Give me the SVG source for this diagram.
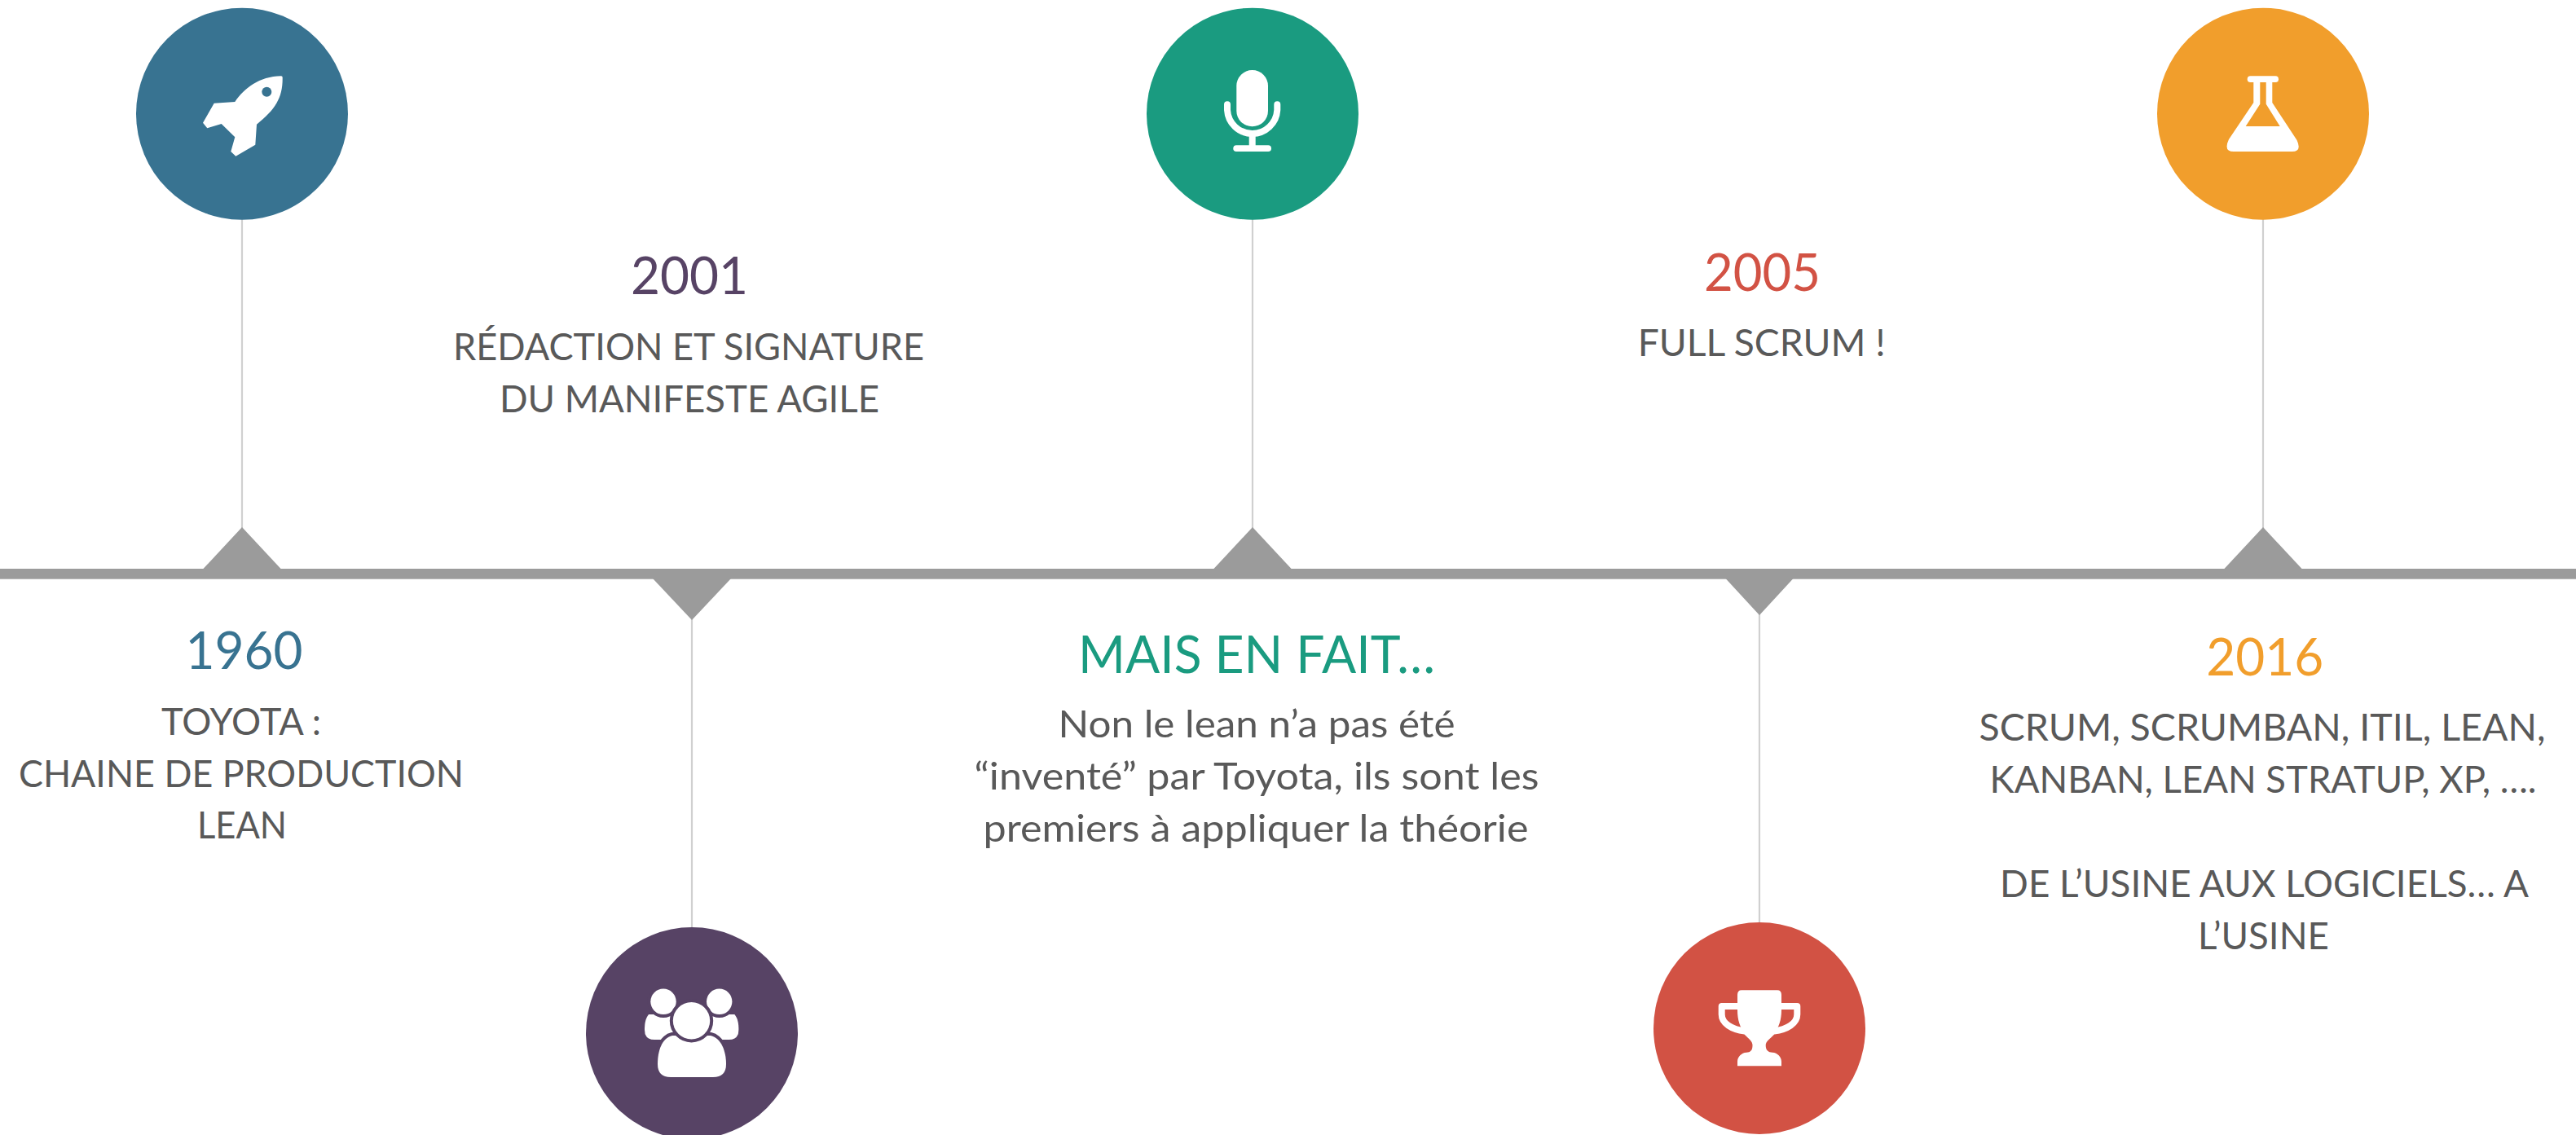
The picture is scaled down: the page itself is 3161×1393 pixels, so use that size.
<svg xmlns="http://www.w3.org/2000/svg" width="3161" height="1393" viewBox="0 0 3161 1393">
<style>
text{font-family:Lato,"Noto Sans","Liberation Sans",sans-serif;text-anchor:middle}
.t{font-size:47px;fill:#595959}
.h{font-size:64px}
.w{fill:#fff}
.tri{fill:#9b9b9b}
.ln{stroke:#d0d0d0;stroke-width:2.2;fill:none}
.s{fill:none;stroke:#fff;stroke-width:8;stroke-linecap:round;stroke-linejoin:round}
</style>
<rect width="3161" height="1393" fill="#fff"/>
<g id="connectors">
<line class="ln" x1="297" y1="269" x2="297" y2="648"/>
<line class="ln" x1="849" y1="760" x2="849" y2="1139"/>
<line class="ln" x1="1537" y1="269" x2="1537" y2="648"/>
<line class="ln" x1="2159" y1="754" x2="2159" y2="1133"/>
<line class="ln" x1="2777" y1="269" x2="2777" y2="648"/>
</g>
<g id="timeline"><rect class="tri" x="0" y="698" width="3161" height="12.7"/></g>
<g id="node-1960">
<polygon class="tri" points="297,647 345,698.5 249,698.5"/>
<circle cx="297" cy="139.7" r="130" fill="#387391"/>
<path class="w" d="M345,93.3C318,94 300,108 288.3,125L262.7,126.7L249,150.7L254.3,157.3L271.7,152L288.3,168.3L283.3,186L289.3,191.7L313.3,177.7L315,152.7C338,134 347,120 346.7,95Q346.7,93.3 345,93.3Z"/>
<circle cx="327.3" cy="112.7" r="6" fill="#387391"/>
<text class="h" x="299.5" y="821" fill="#387391" textLength="144" lengthAdjust="spacingAndGlyphs">1960</text>
<text class="t" x="296" y="901.7" textLength="196" lengthAdjust="spacingAndGlyphs">TOYOTA :</text>
<text class="t" x="296" y="965.7" textLength="546" lengthAdjust="spacingAndGlyphs">CHAINE DE PRODUCTION</text>
<text class="t" x="297" y="1029.3" textLength="110" lengthAdjust="spacingAndGlyphs">LEAN</text>
</g>
<g id="node-2001">
<polygon class="tri" points="849,761 897,710 801,710"/>
<circle cx="849" cy="1268" r="130" fill="#574365"/>
<path class="w" d="M796,1245H830L835,1276H803Q791,1276 791,1264C791,1256 792,1250 796,1245Z"/>
<path class="w" d="M901.4,1245H867.4L862.4,1276H894.4Q906.4,1276 906.4,1264C906.4,1256 905.4,1250 901.4,1245Z"/>
<circle class="w" cx="814" cy="1229.3" r="15.7" stroke="#574365" stroke-width="8" paint-order="stroke"/>
<circle class="w" cx="882.7" cy="1229.3" r="15.7" stroke="#574365" stroke-width="8" paint-order="stroke"/>
<path class="w" stroke="#574365" stroke-width="8" paint-order="stroke" d="M825,1271H872C885,1274 891,1290 891,1306Q891,1322 875,1322H823Q807,1322 807,1306C807,1290 812,1274 825,1271Z"/>
<circle class="w" cx="848.5" cy="1252.7" r="22.7" stroke="#574365" stroke-width="8" paint-order="stroke"/>
<text class="h" x="846" y="361" fill="#574365" textLength="144" lengthAdjust="spacingAndGlyphs">2001</text>
<text class="t" x="845" y="441.7" textLength="578" lengthAdjust="spacingAndGlyphs">RÉDACTION ET SIGNATURE</text>
<text class="t" x="846" y="505.7" textLength="466" lengthAdjust="spacingAndGlyphs">DU MANIFESTE AGILE</text>
</g>
<g id="node-mais-en-fait">
<polygon class="tri" points="1537,647 1585,698.5 1489,698.5"/>
<circle cx="1537" cy="139.7" r="130" fill="#1a9b80"/>
<rect class="w" x="1517.3" y="86" width="38.7" height="69.3" rx="19.3"/>
<path class="s" d="M1506,128.3V135A30.7,30.7 0 0 0 1567.3,135V128.3"/>
<line class="s" x1="1536.7" y1="166" x2="1536.7" y2="180"/>
<rect class="w" x="1513.3" y="178.3" width="46.7" height="7.7" rx="3.8"/>
<text class="h" x="1542" y="825.5" fill="#1a9b80" textLength="438" lengthAdjust="spacingAndGlyphs">MAIS EN FAIT…</text>
<text class="t" x="1542" y="905" textLength="487" lengthAdjust="spacingAndGlyphs">Non le lean n’a pas été</text>
<text class="t" x="1542" y="969" textLength="693" lengthAdjust="spacingAndGlyphs">“inventé” par Toyota, ils sont les</text>
<text class="t" x="1541" y="1032.7" textLength="669" lengthAdjust="spacingAndGlyphs">premiers à appliquer la théorie</text>
</g>
<g id="node-2005">
<polygon class="tri" points="2159,755 2200.5,710 2117.5,710"/>
<circle cx="2159" cy="1262" r="130" fill="#d25244"/>
<path class="w" d="M2137,1215.3H2181Q2186,1215.3 2186,1221V1240C2186,1252 2183,1260 2176.7,1270C2172,1275 2166.7,1278 2166.7,1283C2166.7,1289 2170,1291.7 2175,1291.7C2181,1292 2186,1297 2186,1303V1308.3H2132V1303C2132,1297 2137,1292 2143,1291.7C2148,1291.7 2150.5,1289 2150.5,1283C2150.5,1278 2146,1275 2141,1270C2135,1260 2132,1252 2132,1240V1221Q2132,1215.3 2137,1215.3Z"/>
<path class="s" d="M2135,1235H2112.7V1245C2112.7,1256 2125,1263.5 2141,1265.5"/>
<path class="s" d="M2183,1235H2205.3V1245C2205.3,1256 2193,1263.5 2177,1265.5"/>
<text class="h" x="2162.5" y="356.7" fill="#d25244" textLength="143" lengthAdjust="spacingAndGlyphs">2005</text>
<text class="t" x="2161.7" y="437" textLength="304" lengthAdjust="spacingAndGlyphs">FULL SCRUM !</text>
</g>
<g id="node-2016">
<polygon class="tri" points="2777,647 2825,698.5 2729,698.5"/>
<circle cx="2777" cy="139.7" r="130" fill="#f19e2c"/>
<rect class="w" x="2757.7" y="93.3" width="38.3" height="7.7" rx="3.8"/>
<path class="w" fill-rule="evenodd" d="M2765.3,100V126L2735,171Q2728,186 2741,186H2812.5Q2825,186 2818.5,172L2788.3,126V100ZM2773.3,101V127.7L2755.7,155H2797.7L2780.7,127.7V101Z"/>
<text class="h" x="2779.3" y="829" fill="#f19e2c" textLength="144" lengthAdjust="spacingAndGlyphs">2016</text>
<text class="t" x="2776" y="909" textLength="695" lengthAdjust="spacingAndGlyphs">SCRUM, SCRUMBAN, ITIL, LEAN,</text>
<text class="t" x="2777" y="973.3" textLength="671" lengthAdjust="spacingAndGlyphs">KANBAN, LEAN STRATUP, XP, ….</text>
<text class="t" x="2778.6" y="1101" textLength="649" lengthAdjust="spacingAndGlyphs">DE L’USINE AUX LOGICIELS… A</text>
<text class="t" x="2777.4" y="1165" textLength="161" lengthAdjust="spacingAndGlyphs">L’USINE</text>
</g>
</svg>
